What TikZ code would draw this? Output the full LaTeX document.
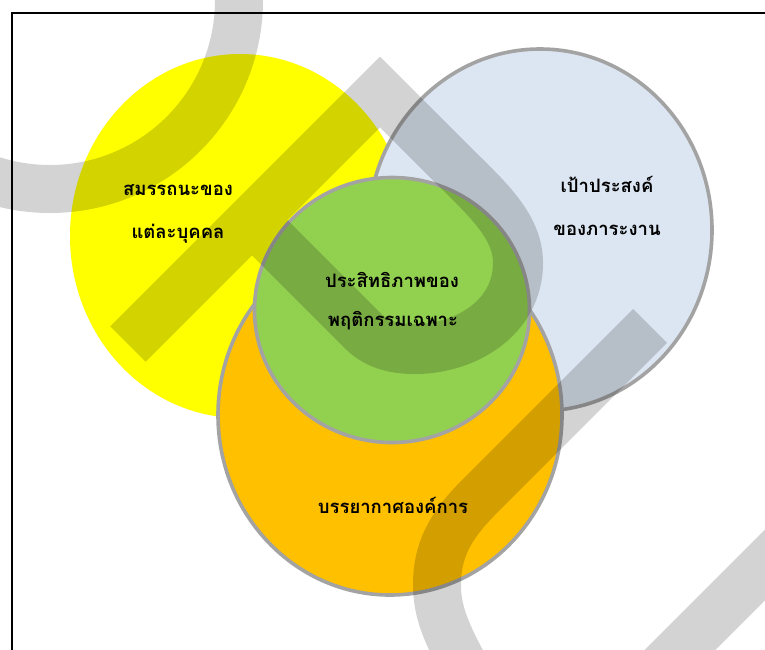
\documentclass[tikz,border=0pt]{standalone}
\usepackage{fontspec}
\newfontfamily\thaifont[Script=Thai]{Loma}
\usetikzlibrary{shapes.geometric}
\definecolor{ringgray}{RGB}{163,163,163}
\definecolor{c-yellow}{RGB}{255,255,0}
\definecolor{c-blue}{RGB}{220,230,242}
\definecolor{c-orange}{RGB}{255,192,0}
\definecolor{c-green}{RGB}{146,208,80}
\begin{document}
\begin{tikzpicture}[x=1pt,y=-1pt,
  bubble/.style={ellipse, draw=ringgray, line width=3.6pt, inner sep=0pt},
  thai/.style={font=\thaifont\bfseries\fontsize{18.5}{22}\selectfont, text=black, inner sep=0pt, anchor=base},
  band/.style={draw=black, draw opacity=0.173, line width=50pt}
]
\clip (0,0) rectangle (765,649);
\fill[white] (0,0) rectangle (765,649);

% four overlapping areas
\node[ellipse, fill=c-yellow, minimum width=340pt, minimum height=364pt, inner sep=0pt] (comp) at (240,236) {};
\node[bubble, fill=c-blue, minimum width=344pt, minimum height=362pt] (goal) at (540,230) {};
\node[bubble, fill=c-orange, minimum width=344pt, minimum height=360pt] (clim) at (390,415) {};
\node[bubble, fill=c-green, minimum width=275pt, minimum height=265pt] (perf) at (392,310) {};

% frame
\draw[line width=1.6pt] (12,13) rectangle (800,700);

% translucent ribbon strokes
\draw[band, line width=48pt] (50,0) circle[radius=189pt];
\draw[band, line join=miter] (128,344) -- (380,92) -- (450,162)
  .. controls (485,197) and (518,225) .. (518,263)
  .. controls (518,318) and (465,349) .. (415,349)
  .. controls (398,349) and (378,346) .. (363,331) -- (252,220);
\draw[band, line width=48pt] (650,326) -- (480,496)
  .. controls (450,526) and (437,550) .. (437,585)
  .. controls (437,610) and (445,630) .. (462,662);
\draw[band] (790,540) -- (630,700);

% labels
\node[thai] (comp1) at (178,195) {สมรรถนะของ};
\node[thai] (comp2) at (178,238) {แต่ละบุคคล};
\node[thai] (goal1) at (607,192) {เป้าประสงค์};
\node[thai] (goal2) at (607,235) {ของภาระงาน};
\node[thai] (perf1) at (392,287) {ประสิทธิภาพของ};
\node[thai] (perf2) at (393,326) {พฤติกรรมเฉพาะ};
\node[thai] (clim1) at (393,513) {บรรยากาศองค์การ};
\end{tikzpicture}
\end{document}
